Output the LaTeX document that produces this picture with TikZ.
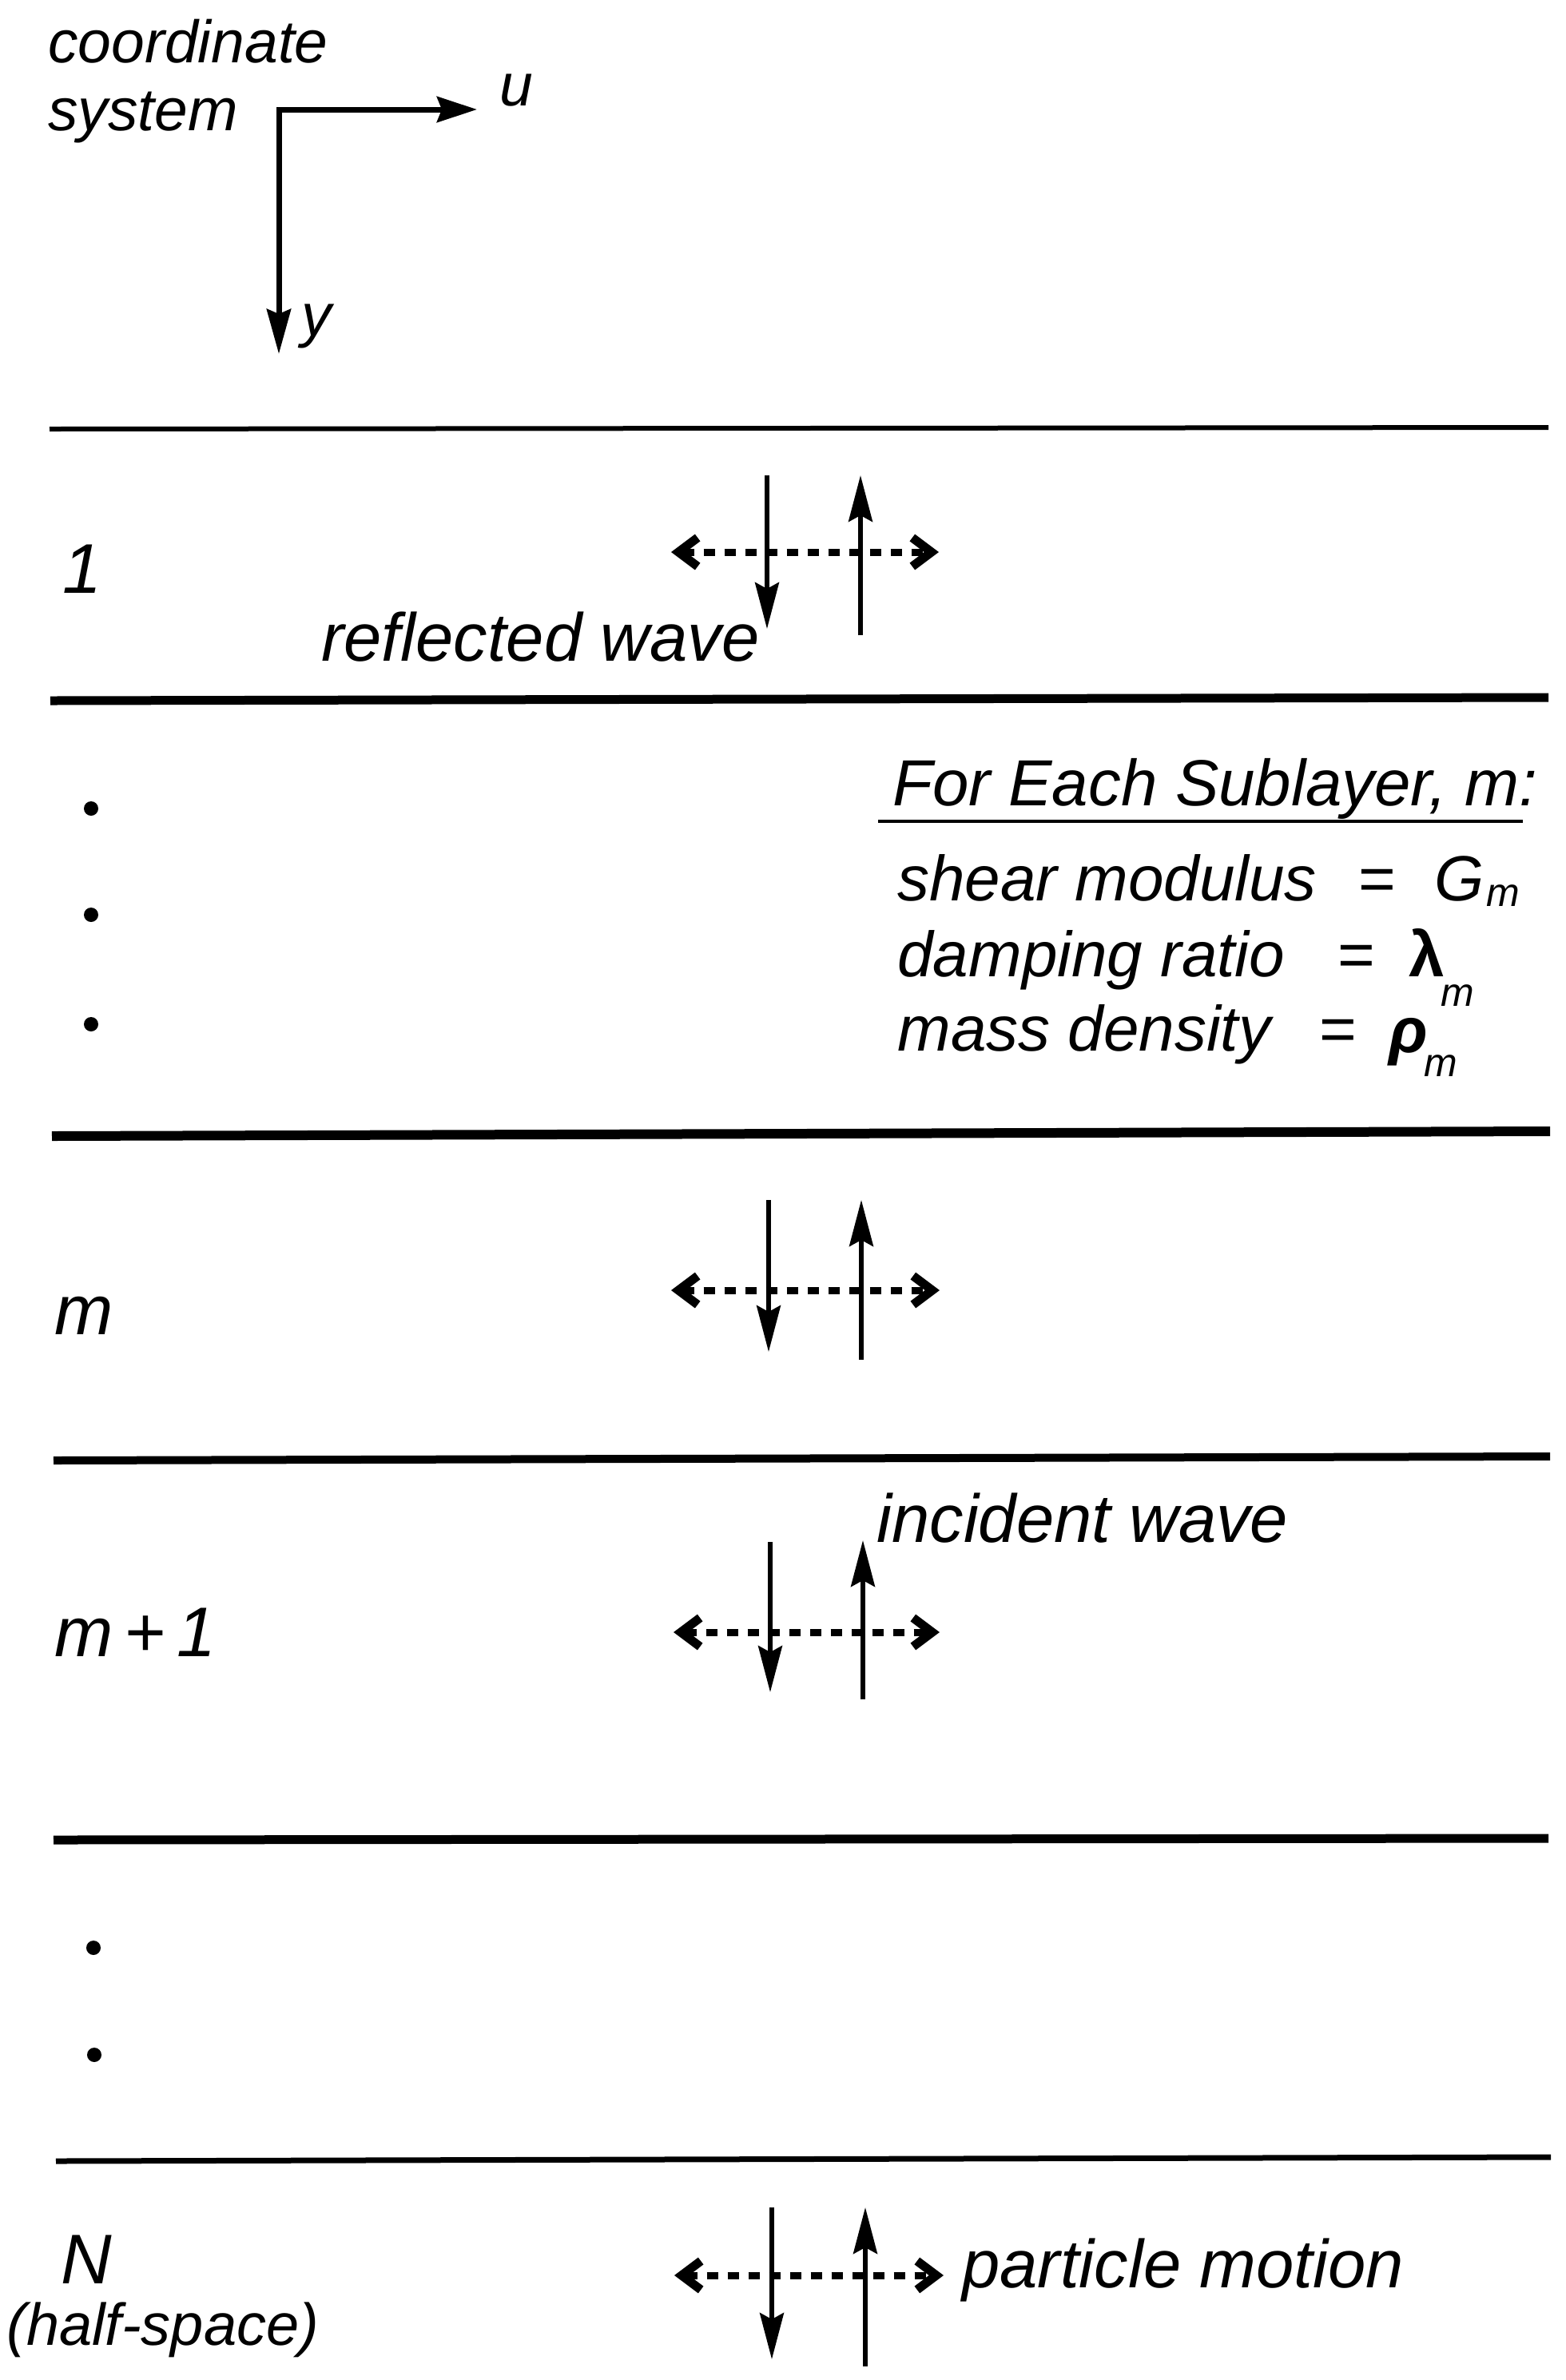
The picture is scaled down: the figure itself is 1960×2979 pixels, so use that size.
\documentclass[tikz,border=0pt]{standalone}
\usepackage{fontspec}
\setmainfont{Liberation Sans}
\usetikzlibrary{arrows.meta}
\newcommand{\fsz}[1]{\fontsize{#1pt}{#1pt}\selectfont}
\begin{document}
\begin{tikzpicture}[x=0.5pt,y=-0.5pt,
  txt/.style={anchor=base west, inner sep=0pt, font=\itshape\fsz{42.5}},
  lefttxt/.style={anchor=base west, inner sep=0pt, font=\itshape\fsz{44}},
  smalltxt/.style={anchor=base west, inner sep=0pt, font=\itshape\fsz{37.5}},
  subtxt/.style={anchor=base west, inner sep=0pt, font=\itshape\fsz{25}},
  layerline/.style={line width=#1},
  axisarrow/.style={line width=3.5pt, line join=miter,
     {Stealth[length=25pt,width=16pt,inset=3pt]}-{Stealth[length=28pt,width=15pt,inset=3pt]}},
  wavearrow/.style={line width=2.6pt, -{Stealth[length=29pt,width=15pt,inset=4pt]}},
  motionarrow/.style={line width=4.5pt, dash pattern=on 7pt off 6pt,
     {Straight Barb[length=12pt,width=18pt,line width=5.5pt]}-{Straight Barb[length=12pt,width=18pt,line width=5.5pt]}},
  dotmark/.style={fill=black}
]
\useasboundingbox (0,0) rectangle (1960,2979);

% ---------- coordinate system ----------
\node[smalltxt] (coordtxt) at (60,78) {coordinate};
\node[smalltxt] (systxt) at (60,163) {system};
\coordinate (corner) at (349,137);
\coordinate (utip) at (597,137);
\coordinate (ytip) at (349,443);
\draw[axisarrow] (utip) -- (corner) -- (ytip);
\node[smalltxt] (ulbl) at (625,132) {u};
\node[smalltxt] (ylbl) at (377,420) {y};

% ---------- layer boundaries ----------
\draw[layerline=3pt] (62,537) -- (1938,535);
\draw[layerline=5.5pt] (63,877) -- (1938,873);
\draw[layerline=6pt] (65,1422) -- (1940,1416);
\draw[layerline=5pt] (67,1828) -- (1940,1823);
\draw[layerline=5.5pt] (67,2303) -- (1938,2301);
\draw[layerline=3.5pt] (70,2705) -- (1941,2700);

% ---------- layer labels ----------
\node[lefttxt] (l1) at (78,742) {1};
\node[lefttxt] (lm) at (68,1670) {m};
\node[lefttxt] (lm1) at (68,2073) {m\hspace{7pt}+\hspace{7pt}1};
\node[lefttxt] (lN) at (76,2858) {N};
\node[smalltxt, font=\itshape\fsz{37}] (lhs) at (8,2935) {(half-space)};

\fill[dotmark] (114,1012) circle (9);
\fill[dotmark] (114,1145) circle (9);
\fill[dotmark] (114,1282) circle (9);
\fill[dotmark] (117,2438) circle (9);
\fill[dotmark] (118,2572) circle (9);

% ---------- waves: layer 1 ----------
\coordinate (a1d0) at (960,595);  \coordinate (a1d1) at (960,787);
\coordinate (a1u0) at (1077,795); \coordinate (a1u1) at (1077,595);
\coordinate (a1l) at (840,691);   \coordinate (a1r) at (1175,691);
\draw[wavearrow] (a1d0) -- (a1d1);
\draw[wavearrow] (a1u0) -- (a1u1);
\draw[motionarrow] (a1l) -- (a1r);
\node[txt] (refl) at (402,827) {reflected wave};

% ---------- waves: layer m ----------
\coordinate (amd0) at (962,1502); \coordinate (amd1) at (962,1692);
\coordinate (amu0) at (1078,1702);\coordinate (amu1) at (1078,1502);
\coordinate (aml) at (840,1615);  \coordinate (amr) at (1176,1615);
\draw[wavearrow] (amd0) -- (amd1);
\draw[wavearrow] (amu0) -- (amu1);
\draw[motionarrow] (aml) -- (amr);

% ---------- waves: layer m+1 ----------
\coordinate (bmd0) at (964,1930); \coordinate (bmd1) at (964,2118);
\coordinate (bmu0) at (1080,2127);\coordinate (bmu1) at (1080,1928);
\coordinate (bml) at (843,2043);  \coordinate (bmr) at (1176,2043);
\draw[wavearrow] (bmd0) -- (bmd1);
\draw[wavearrow] (bmu0) -- (bmu1);
\draw[motionarrow] (bml) -- (bmr);
\node[txt] (inc) at (1097,1930) {incident wave};

% ---------- waves: half-space ----------
\coordinate (cnd0) at (966,2763); \coordinate (cnd1) at (966,2953);
\coordinate (cnu0) at (1083,2962);\coordinate (cnu1) at (1083,2763);
\coordinate (cnl) at (844,2848);  \coordinate (cnr) at (1181,2848);
\draw[wavearrow] (cnd0) -- (cnd1);
\draw[wavearrow] (cnu0) -- (cnu1);
\draw[motionarrow] (cnl) -- (cnr);
\node[txt] (pm) at (1204,2863) {particle motion};

% ---------- sublayer properties ----------
\node[txt, font=\itshape\fsz{40.8}] (hdr) at (1117,1008) {For Each Sublayer, m:};
\draw[line width=2pt] (1099,1028) -- (1906,1028);

\node[txt, font=\itshape\fsz{40}] (p1) at (1123,1127) {shear modulus};
\node[txt, font=\fsz{40}] (e1) at (1700,1127) {=};
\node[txt, font=\itshape\fsz{40}] (g1) at (1795,1127) {G};
\node[subtxt] (s1) at (1860,1134) {m};

\node[txt, font=\itshape\fsz{40}] (p2) at (1123,1222) {damping ratio};
\node[txt, font=\fsz{40}] (e2) at (1674,1222) {=};
\node[txt, font=\bfseries\fsz{40}] (g2) at (1763,1222) {λ};
\node[subtxt] (s2) at (1803,1259) {m};

\node[txt, font=\itshape\fsz{40}] (p3) at (1123,1315) {mass density};
\node[txt, font=\fsz{40}] (e3) at (1651,1315) {=};
\node[txt, font=\bfseries\itshape\fsz{40}] (g3) at (1738,1317) {ρ};
\node[subtxt] (s3) at (1782,1347) {m};
\end{tikzpicture}
\end{document}
